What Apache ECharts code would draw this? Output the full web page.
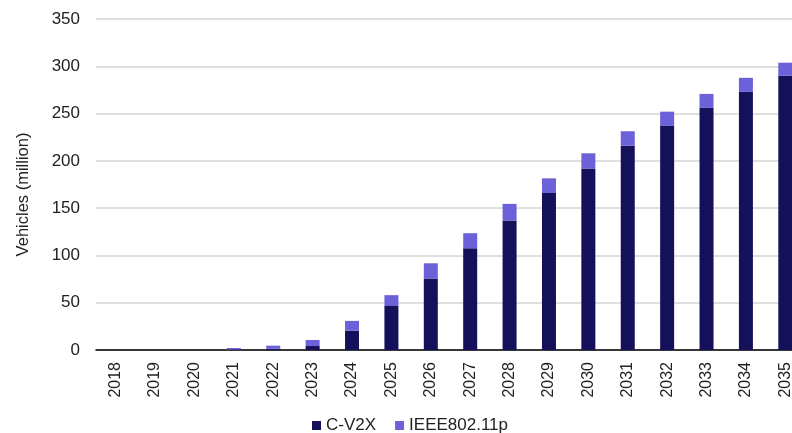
<!DOCTYPE html>
<html>
<head>
<meta charset="utf-8">
<script src="https://cdn.jsdelivr.net/npm/echarts@6/dist/echarts.min.js"></script>
<style>
  html, body { margin: 0; padding: 0; background: #fff; }
  #chart { width: 792px; height: 433px; }
</style>
</head>
<body>
<div id="chart"></div>
<script>
// years on the x axis
var years = ["2018","2019","2020","2021","2022","2023","2024","2025","2026","2027",
             "2028","2029","2030","2031","2032","2033","2034","2035"];
// C-V2X vehicles (million)
var cv2x = [0, 0, 0, 0.5, 1.4, 4.2, 20.5, 46.5, 75.5, 107.5, 137, 166, 192, 216, 237, 256, 273, 290];
// IEEE802.11p vehicles (million), stacked on top
var ieee = [0, 0, 0, 1.6, 3.2, 6.4, 10.3, 11.5, 16.2, 16, 17.5, 15.5, 16, 15.3, 15, 14.8, 14.8, 13.8];

var chart = echarts.init(document.getElementById("chart"));

var option = {
  animation: false,
  textStyle: { fontFamily: "Liberation Sans, Arial, sans-serif" },
  grid: {
    left: 96,
    top: 19,
    width: 709,
    height: 331,
    outerBoundsMode: "none"
  },
  legend: {
    left: 307,
    top: 412,
    itemWidth: 9,
    itemHeight: 9,
    itemGap: 19,
    icon: "rect",
    textStyle: { fontSize: 17, color: "#222" },
    data: ["C-V2X", "IEEE802.11p"]
  },
  xAxis: {
    type: "category",
    data: years,
    axisLine: { lineStyle: { color: "#000", width: 1.5 } },
    axisTick: { show: false },
    axisLabel: {
      rotate: 90,
      margin: 12,
      fontSize: 16,
      color: "#222",
      interval: 0
    }
  },
  yAxis: {
    type: "value",
    min: 0,
    max: 350,
    interval: 50,
    name: "Vehicles (million)",
    nameLocation: "middle",
    nameGap: 64,
    nameTextStyle: { fontSize: 16.5, color: "#222", padding: [0, 20, 0, 0] },
    axisLine: { show: false },
    axisTick: { show: false },
    axisLabel: { fontSize: 17, color: "#222", margin: 16 },
    splitLine: { lineStyle: { color: "#d4d4d4", width: 1.5 } }
  },
  series: [
    {
      name: "C-V2X",
      type: "bar",
      stack: "total",
      data: cv2x,
      barWidth: 14,
      itemStyle: { color: "#15105a" }
    },
    {
      name: "IEEE802.11p",
      type: "bar",
      stack: "total",
      data: ieee,
      barWidth: 14,
      itemStyle: { color: "#6c61d9" }
    }
  ]
};

chart.setOption(option);
</script>
</body>
</html>
